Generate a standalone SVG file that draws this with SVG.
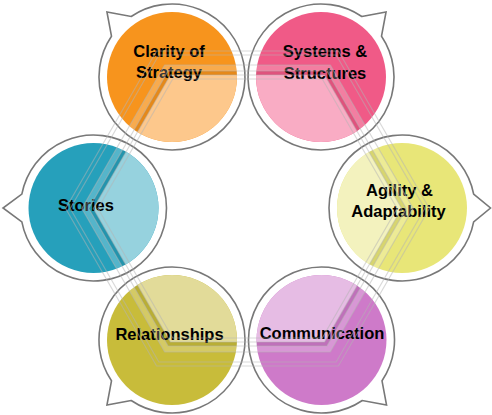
<svg xmlns="http://www.w3.org/2000/svg" width="492" height="415" viewBox="0 0 492 415">
<style>
.ring{fill:#fff;stroke:#787878;stroke-width:1.6}
.lbl{font-family:"Liberation Sans",Arial,sans-serif;font-weight:bold;font-size:16.5px;fill:#000;text-anchor:middle}
.ln{fill:none;stroke:#b4b4b4;stroke-opacity:0.5;stroke-width:1.2}
.dk{fill:none;stroke:#000;stroke-opacity:0.07;stroke-width:4}
.lt{fill:none;stroke:#fff;stroke-opacity:0.22;stroke-width:6}
</style>
<defs>
<clipPath id="k1"><circle cx="172" cy="77" r="65"/></clipPath>
<clipPath id="k2"><circle cx="321" cy="77" r="65"/></clipPath>
<clipPath id="k3"><circle cx="93.5" cy="208" r="65"/></clipPath>
<clipPath id="k4"><circle cx="402" cy="208" r="65"/></clipPath>
<clipPath id="k5"><circle cx="172" cy="340" r="65"/></clipPath>
<clipPath id="k6"><circle cx="321.5" cy="340" r="65"/></clipPath>
<clipPath id="kall">
<circle cx="172" cy="77" r="65"/><circle cx="321" cy="77" r="65"/><circle cx="93.5" cy="208" r="65"/>
<circle cx="402" cy="208" r="65"/><circle cx="172" cy="340" r="65"/><circle cx="321.5" cy="340" r="65"/>
</clipPath>
<polygon id="hex" points="401.65,208.5 324.58,342 170.42,342 93.35,208.5 170.42,75 324.58,75"/>
</defs>

<g id="clarity">
<path class="ring" d="M111.48,36.18 L106.95,11.95 L131.18,16.48 A73,73 0 1 1 111.48,36.18 Z"/>
<circle cx="172" cy="77" r="65" fill="#f7941d"/>
<use href="#hex" fill="#fdc88c" clip-path="url(#k1)"/>
<text class="lbl" x="169" y="57">Clarity of</text>
<text class="lbl" x="169" y="78">Strategy</text>
</g>

<g id="systems">
<path class="ring" d="M361.82,16.48 L386.05,11.95 L381.52,36.18 A73,73 0 1 1 361.82,16.48 Z"/>
<circle cx="321" cy="77" r="65" fill="#f05a87"/>
<use href="#hex" fill="#f9acc4" clip-path="url(#k2)"/>
<text class="lbl" x="325" y="57">Systems &amp;</text>
<text class="lbl" x="325" y="79">Structures</text>
</g>

<g id="stories">
<path class="ring" d="M21.84,221.93 L3,208 L21.84,194.07 A73,73 0 1 1 21.84,221.93 Z"/>
<circle cx="93.5" cy="208" r="65" fill="#26a0bb"/>
<use href="#hex" fill="#96d2de" clip-path="url(#k3)"/>
<text class="lbl" x="86" y="211">Stories</text>
</g>

<g id="agility">
<path class="ring" d="M473.66,194.07 L490.5,208 L473.66,221.93 A73,73 0 1 1 473.66,194.07 Z"/>
<circle cx="402" cy="208" r="65" fill="#e8e678"/>
<use href="#hex" fill="#f3f2be" clip-path="url(#k4)"/>
<text class="lbl" x="399.5" y="196">Agility &amp;</text>
<text class="lbl" x="398.5" y="217">Adaptability</text>
</g>

<g id="relationships">
<path class="ring" d="M131.18,400.52 L106.95,405.05 L111.48,380.82 A73,73 0 1 1 131.18,400.52 Z"/>
<circle cx="172" cy="340" r="65" fill="#c8bc3a"/>
<use href="#hex" fill="#e2db99" clip-path="url(#k5)"/>
<text class="lbl" x="169.5" y="340">Relationships</text>
</g>

<g id="communication">
<path class="ring" d="M382.02,380.82 L386.55,405.05 L362.32,400.52 A73,73 0 1 1 382.02,380.82 Z"/>
<circle cx="321.5" cy="340" r="65" fill="#ce7ac9"/>
<use href="#hex" fill="#e6bce4" clip-path="url(#k6)"/>
<text class="lbl" x="322" y="339">Communication</text>
</g>

<g id="connectors">
<g clip-path="url(#kall)">
<polygon class="dk" points="403.96,208.5 325.73,344 169.27,344 91.04,208.5 169.27,73 325.73,73"/>
<polygon class="lt" points="409.74,208.5 328.62,349 166.38,349 85.26,208.5 166.38,68 328.62,68"/>
</g>
<polygon class="ln" points="397.04,208.5 322.27,338 172.73,338 97.96,208.5 172.73,79 322.27,79"/>
<polygon class="ln" points="401.65,208.5 324.58,342 170.42,342 93.35,208.5 170.42,75 324.58,75"/>
<polygon class="ln" points="406.27,208.5 326.89,346 168.11,346 88.73,208.5 168.11,71 326.89,71"/>
<polygon class="ln" points="413.2,208.5 330.35,352 164.65,352 81.8,208.5 164.65,65 330.35,65"/>
<polygon class="ln" points="424.75,208.5 336.12,362 158.88,362 70.25,208.5 158.88,55 336.12,55"/>
<polygon class="ln" points="429.37,208.5 338.43,366 156.57,366 65.63,208.5 156.57,51 338.43,51"/>
</g>
</svg>
